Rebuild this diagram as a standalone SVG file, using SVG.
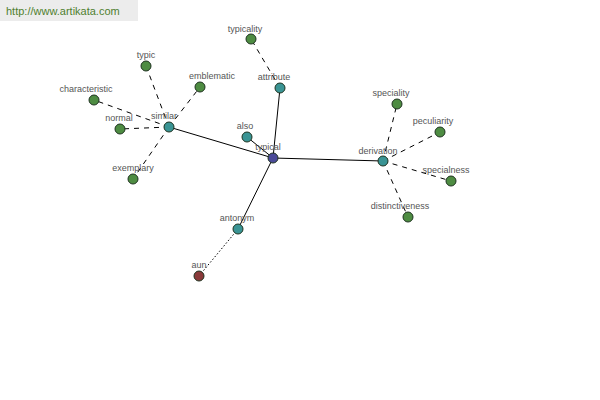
<svg xmlns="http://www.w3.org/2000/svg" width="600" height="400" viewBox="0 0 600 400">
<style>
text{font-family:"Liberation Sans",Arial,sans-serif;font-size:9px;fill:#555;text-anchor:middle}
.n{stroke:#1f3320;stroke-width:1}
.g{fill:#4e8c42}
.t{fill:#3a9494}
.c{stroke:#000;stroke-width:1;fill:none}
.d{stroke-dasharray:5,5}
.o{stroke-dasharray:1.5,2}
</style>
<rect x="0" y="0" width="138" height="21" fill="#ececec"/>
<text x="6" y="15" style="font-size:11px;fill:#4f7f2f;text-anchor:start">http://www.artikata.com</text>
<g id="connectors">
<line class="c" x1="273" y1="158" x2="169" y2="127"/>
<line class="c" x1="273" y1="158" x2="280" y2="88"/>
<line class="c" x1="273" y1="158" x2="247" y2="137"/>
<line class="c" x1="273" y1="158" x2="383" y2="161"/>
<line class="c" x1="273" y1="158" x2="238" y2="229"/>
<line class="c o" x1="238" y1="229" x2="199" y2="276"/>
<line class="c d" x1="280" y1="88" x2="251" y2="39"/>
<line class="c d" x1="169" y1="127" x2="146" y2="66"/>
<line class="c d" x1="169" y1="127" x2="200" y2="87"/>
<line class="c d" x1="169" y1="127" x2="94" y2="100"/>
<line class="c d" x1="169" y1="127" x2="120" y2="129"/>
<line class="c d" x1="169" y1="127" x2="133" y2="179"/>
<line class="c d" x1="383" y1="161" x2="397" y2="104"/>
<line class="c d" x1="383" y1="161" x2="440" y2="132"/>
<line class="c d" x1="383" y1="161" x2="451" y2="181"/>
<line class="c d" x1="383" y1="161" x2="408" y2="217"/>
</g>
<g id="typicality"><circle class="n g" cx="251" cy="39" r="5"/><text x="245" y="32">typicality</text></g>
<g id="typic"><circle class="n g" cx="146" cy="66" r="5"/><text x="146" y="58">typic</text></g>
<g id="emblematic"><circle class="n g" cx="200" cy="87" r="5"/><text x="212" y="79">emblematic</text></g>
<g id="characteristic"><circle class="n g" cx="94" cy="100" r="5"/><text x="86" y="92">characteristic</text></g>
<g id="normal"><circle class="n g" cx="120" cy="129" r="5"/><text x="119" y="121">normal</text></g>
<g id="exemplary"><circle class="n g" cx="133" cy="179" r="5"/><text x="133" y="171">exemplary</text></g>
<g id="similar"><circle class="n t" cx="169" cy="127" r="5"/><text x="164" y="119">similar</text></g>
<g id="attribute"><circle class="n t" cx="280" cy="88" r="5"/><text x="274" y="80">attribute</text></g>
<g id="also"><circle class="n t" cx="247" cy="137" r="5"/><text x="245" y="129">also</text></g>
<g id="typical"><circle class="n" cx="273" cy="158" r="5" fill="#4a4a98"/><text x="268" y="150">typical</text></g>
<g id="derivation"><circle class="n t" cx="383" cy="161" r="5"/><text x="378" y="154">derivation</text></g>
<g id="speciality"><circle class="n g" cx="397" cy="104" r="5"/><text x="391" y="96">speciality</text></g>
<g id="peculiarity"><circle class="n g" cx="440" cy="132" r="5"/><text x="433" y="124">peculiarity</text></g>
<g id="specialness"><circle class="n g" cx="451" cy="181" r="5"/><text x="446" y="173">specialness</text></g>
<g id="distinctiveness"><circle class="n g" cx="408" cy="217" r="5"/><text x="400" y="209">distinctiveness</text></g>
<g id="antonym"><circle class="n t" cx="238" cy="229" r="5"/><text x="237" y="221">antonym</text></g>
<g id="aun"><circle class="n" cx="199" cy="276" r="5" fill="#8a3a3a"/><text x="199" y="268">aun</text></g>
</svg>
